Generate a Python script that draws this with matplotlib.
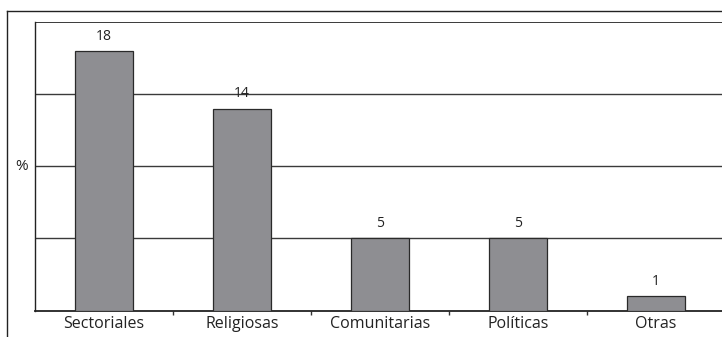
import matplotlib
matplotlib.use("Agg")
import matplotlib.pyplot as plt
from matplotlib.lines import Line2D

categories = ["Sectoriales", "Religiosas", "Comunitarias", "Políticas", "Otras"]
values = [18, 14, 5, 5, 1]
grid_levels = [5, 10, 15, 20]

plt.rcParams['font.family'] = ['Open Sans', 'DejaVu Sans']

fig = plt.figure(figsize=(7.22, 3.37), dpi=100)
ax = fig.add_axes([35/722, 1-310.5/337, 690/722, (310.5-22)/337])

x = list(range(len(categories)))
ax.bar(x, values, width=0.42, color="#8e8e92", edgecolor="#2a2a2a", linewidth=0.9, zorder=3)
for xi, v in zip(x, values):
    ax.text(xi, v + 0.5, str(v), ha="center", va="bottom", fontsize=10, color="#222222", zorder=4)

for g in grid_levels:
    ax.axhline(g, color="#3a3a3a", linewidth=1.4 if g == grid_levels[-1] else 1.0, zorder=1)

ax.set_xlim(-0.5, len(categories) - 0.5)
ax.set_ylim(0, 20)
ax.set_xticks(x)
ax.set_xticklabels(categories, fontsize=11.5, color="#222222")
ax.tick_params(axis="x", which="major", length=0, pad=4)
ax.set_xticks([i + 0.5 for i in x[:-1]], minor=True)
ax.tick_params(axis="x", which="minor", length=3, width=1, color="#333333", direction="out")
ax.set_yticks([])
for s in ["top", "right"]:
    ax.spines[s].set_visible(False)
ax.spines["left"].set_color("#222222")
ax.spines["bottom"].set_color("#222222")
ax.spines["left"].set_linewidth(1.0)
ax.spines["bottom"].set_linewidth(1.3)

fig.text(22/722, 1-167/337, "%", ha="center", va="center", fontsize=11, color="#222222")

fig.add_artist(Line2D([7/722, 7/722], [0, 1-11/337], transform=fig.transFigure, color="#222222", linewidth=1.0))
fig.add_artist(Line2D([7/722, 1], [1-11/337, 1-11/337], transform=fig.transFigure, color="#222222", linewidth=1.0))

fig.savefig("out.png", dpi=100)
